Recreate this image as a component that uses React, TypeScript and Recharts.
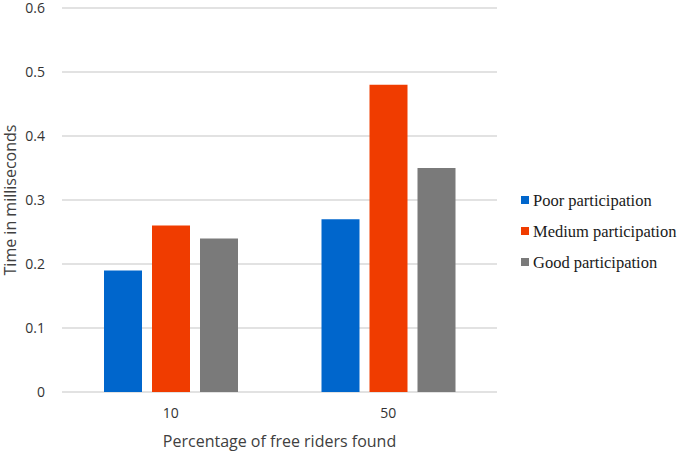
import React from "react";
import { BarChart, Bar, XAxis, YAxis, CartesianGrid, Legend } from "recharts";

const categories = ["10", "50"];
const poor = [0.19, 0.27];
const medium = [0.26, 0.48];
const good = [0.24, 0.35];
const yTicks = [0, 0.1, 0.2, 0.3, 0.4, 0.5, 0.6];

const seriesNames = ["Poor participation", "Medium participation", "Good participation"];
const seriesColors = ["#0066cc", "#f03c00", "#7a7a7a"];

const data = categories.map((c, i) => ({ cat: c, poor: poor[i], medium: medium[i], good: good[i] }));

const sans = "'Open Sans', 'DejaVu Sans', sans-serif";
const serif = "Liberation Serif";

const LegendContent = () => (
  <svg width={164} height={93} style={{ display: "block" }}>
    {seriesNames.map((n, i) => (
      <g key={n}>
        <rect x={0} y={i * 31 + 11} width={8} height={8} fill={seriesColors[i]} />
        <text x={12} y={i * 31 + 15} dominantBaseline="central" fontFamily={serif} fontSize={16.5} fill="#1a1a1a">
          {n}
        </text>
      </g>
    ))}
  </svg>
);

export default function App() {
  return (
    <div style={{ position: "absolute", left: 0, top: 0, width: 685, height: 452, background: "#fff" }}>
      <BarChart
        width={685}
        height={452}
        data={data}
        margin={{ top: 8, right: 188, bottom: 0, left: 0 }}
        barSize={38}
        barGap={10}
      >
        <CartesianGrid horizontal={true} vertical={false} stroke="#d9d9d9" strokeWidth={1.3} />
        <XAxis
          dataKey="cat"
          height={60}
          axisLine={false}
          tickLine={false}
          tickMargin={10}
          tick={{ fill: "#333333", fontSize: 14, fontFamily: sans }}
          label={{
            content: () => (
              <text x={279.5} y={441} textAnchor="middle" dominantBaseline="central" fill="#404040" fontSize={16} fontFamily={sans}>
                Percentage of free riders found
              </text>
            ),
          }}
        />
        <YAxis
          width={62}
          domain={[0, 0.6]}
          ticks={yTicks}
          axisLine={false}
          tickLine={false}
          tickMargin={11}
          tick={{ fill: "#333333", fontSize: 14, fontFamily: sans }}
          label={{
            content: () => (
              <text x={10} y={200} transform="rotate(-90 10 200)" textAnchor="middle" dominantBaseline="central" fill="#404040" fontSize={16} fontFamily={sans}>
                Time in milliseconds
              </text>
            ),
          }}
        />
        <Legend
          layout="horizontal"
          verticalAlign="middle"
          align="center"
          wrapperStyle={{ left: 521, top: 185, width: 164 }}
          content={<LegendContent />}
        />
        <Bar dataKey="poor" name={seriesNames[0]} fill={seriesColors[0]} isAnimationActive={false} />
        <Bar dataKey="medium" name={seriesNames[1]} fill={seriesColors[1]} isAnimationActive={false} />
        <Bar dataKey="good" name={seriesNames[2]} fill={seriesColors[2]} isAnimationActive={false} />
      </BarChart>
    </div>
  );
}
